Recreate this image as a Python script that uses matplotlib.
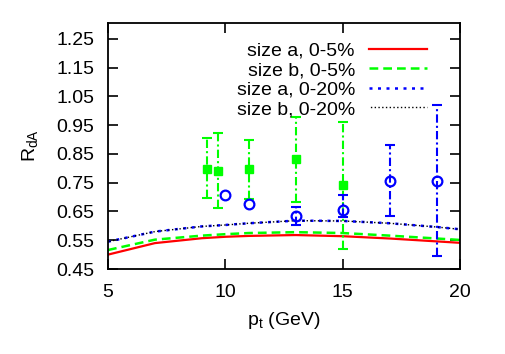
import numpy as np
import matplotlib.pyplot as plt

plt.rcParams['font.family'] = ['Liberation Sans', 'DejaVu Sans']

# model curves
pt_curve = [5, 7, 9, 10, 11, 13, 15, 17, 19, 20]
a_05 = [0.500, 0.540, 0.557, 0.562, 0.565, 0.568, 0.564, 0.556, 0.546, 0.541]
b_05 = [0.516, 0.552, 0.566, 0.571, 0.575, 0.578, 0.575, 0.566, 0.556, 0.551]
a_020 = [0.545, 0.580, 0.598, 0.603, 0.609, 0.618, 0.617, 0.609, 0.596, 0.588]
b_020 = a_020

# data points
pt_green = [9.2, 9.7, 11, 13, 15]
r_green = [0.798, 0.792, 0.797, 0.833, 0.742]
lo_green = [0.696, 0.661, 0.695, 0.684, 0.518]
hi_green = [0.906, 0.922, 0.900, 0.980, 0.962]

pt_blue = [10, 11, 13, 15, 17, 19]
r_blue = [0.707, 0.676, 0.634, 0.655, 0.756, 0.756]
lo_blue = [0.707, 0.676, 0.603, 0.630, 0.634, 0.495]
hi_blue = [0.707, 0.676, 0.667, 0.707, 0.881, 1.020]

DASHDOT = (0, (4, 1.5, 1, 1.5))


def run():
    fig = plt.figure(figsize=(5.06, 3.54), dpi=100)
    ax = fig.add_axes([108 / 506, 1 - 269 / 354, 352 / 506, 246 / 354])

    ax.plot(pt_curve, a_05, color='#ff0000', lw=1.6, label='size a, 0-5%')
    ax.plot(pt_curve, b_05, color='#00ff00', lw=1.8, ls=(0, (3.5, 2)),
            label='size b, 0-5%')
    ax.plot(pt_curve, a_020, color='#0000ff', lw=1.8, ls=(0, (1.2, 2.2)),
            label='size a, 0-20%')
    ax.plot(pt_curve, b_020, color='black', lw=1.0, ls=(1.7, (1, 1.7)),
            label='size b, 0-20%')

    g = np.array(r_green)
    eb = ax.errorbar(pt_green, g, yerr=[g - np.array(lo_green), np.array(hi_green) - g],
                     fmt='s', color='#00ff00', ms=6, capsize=3.5, elinewidth=1.5,
                     capthick=1.5)
    eb[2][0].set_linestyle(DASHDOT)

    b = np.array(r_blue)
    lo = np.array(lo_blue)
    hi = np.array(hi_blue)
    has_err = hi > lo
    x_b = np.array(pt_blue)
    eb2 = ax.errorbar(x_b[has_err], b[has_err],
                      yerr=[(b - lo)[has_err], (hi - b)[has_err]],
                      fmt='none', ecolor='#0000ff', capsize=3.5, elinewidth=1.5,
                      capthick=1.5)
    eb2[2][0].set_linestyle(DASHDOT)
    ax.plot(x_b, b, 'o', color='#0000ff', mfc='none', mew=1.6, ms=7)

    ax.set_xlim(5, 20)
    ax.set_ylim(0.45, 1.305)
    ax.set_xticks([5, 10, 15, 20])
    yt = np.arange(0.45, 1.26, 0.1)
    ax.set_yticks(yt)
    ax.set_yticklabels(['%.2f' % v for v in yt])
    ax.tick_params(direction='in', top=True, right=True, length=7, width=1.2,
                   labelsize=14)
    ax.tick_params(axis='x', pad=11)
    ax.tick_params(axis='y', pad=10)
    for s in ax.spines.values():
        s.set_linewidth(1.3)

    ax.set_xlabel('p$_\\mathregular{t}$ (GeV)', fontsize=14, labelpad=6)
    ax.set_ylabel('R$_\\mathregular{dA}$', fontsize=14, labelpad=11)

    ax.legend(loc='upper right', frameon=False, fontsize=14, markerfirst=False,
              handlelength=3.0, handletextpad=0.7, labelspacing=0.1,
              borderaxespad=0.0, bbox_to_anchor=(0.928, 0.955))

    fig.savefig('out.png', dpi=100)


if __name__ == '__main__':
    run()
